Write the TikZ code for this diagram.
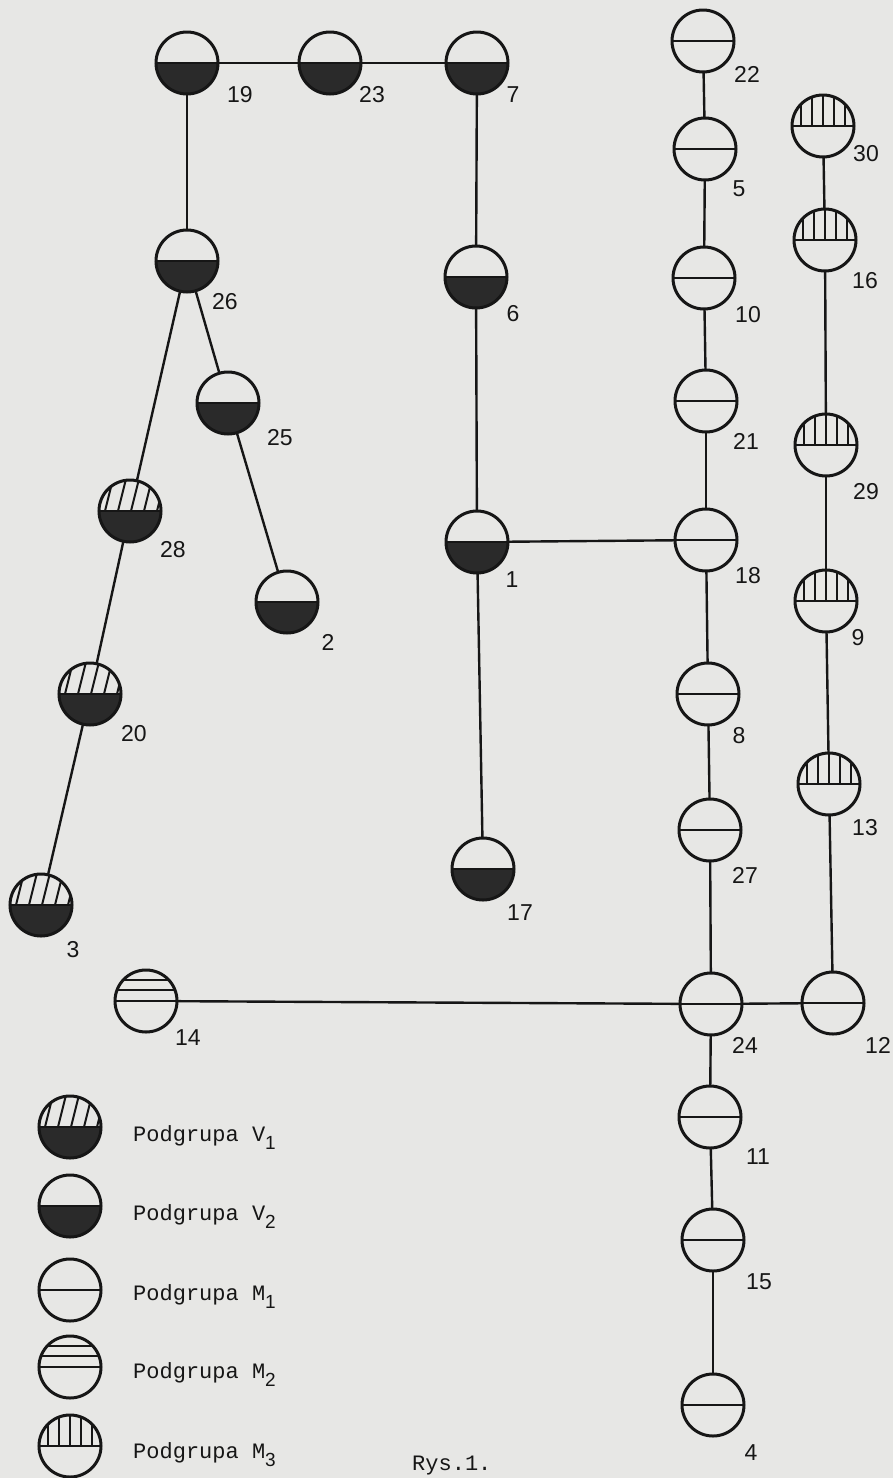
\documentclass[tikz,border=0pt]{standalone}
\usepackage{fontspec}
\setmainfont{Liberation Sans}
\newfontfamily\twfont{Liberation Mono}
\definecolor{bg}{RGB}{231,231,229}
\definecolor{ink}{RGB}{22,22,22}
\definecolor{dark}{RGB}{42,42,42}
\tikzset{
  disc/.style={circle, draw=ink, line width=3pt, minimum size=62pt, inner sep=0pt, outer sep=0pt},
  inr/.style={shift={(path picture bounding box.center)}, x=1pt, y=1pt},
  vone/.style={disc, path picture={\begin{scope}[inr]
      \fill[dark] (-40,0) rectangle (40,-40);
      \foreach \o in {-38,-25,-12,1,14,27} \draw[ink, line width=2pt] (\o,0) -- (\o+9,36);
      \draw[ink, line width=2.4pt] (-40,0) -- (40,0);
    \end{scope}}},
  vtwo/.style={disc, path picture={\begin{scope}[inr]
      \fill[dark] (-40,0) rectangle (40,-40);
      \draw[ink, line width=2.4pt] (-40,0) -- (40,0);
    \end{scope}}},
  mone/.style={disc, path picture={\begin{scope}[inr]
      \draw[ink, line width=2.4pt] (-40,0) -- (40,0);
    \end{scope}}},
  mtwo/.style={disc, path picture={\begin{scope}[inr]
      \draw[ink, line width=2.4pt] (-40,0) -- (40,0);
      \draw[ink, line width=2.2pt] (-40,11) -- (40,11);
      \draw[ink, line width=2.2pt] (-40,21) -- (40,21);
    \end{scope}}},
  mthree/.style={disc, path picture={\begin{scope}[inr]
      \draw[ink, line width=2.4pt] (-40,0) -- (40,0);
      \foreach \o in {-22,-11,0,11,22} \draw[ink, line width=2pt] (\o,0) -- (\o,36);
    \end{scope}}},
  lab/.style={inner sep=0pt, font=\fontsize{23}{23}\selectfont, text=ink},
  leg/.style={anchor=base west, inner sep=0pt, font=\twfont\fontsize{22}{22}\selectfont, text=ink},
  edge/.style={draw=ink, line width=2.4pt},
}
\newcommand{\subdig}[1]{\raisebox{-8pt}{\rmfamily\fontsize{19}{19}\selectfont #1}}
\begin{document}
\begin{tikzpicture}[x=1pt, y=-1pt]
\fill[bg] (0,0) rectangle (893,1478);
\useasboundingbox (0,0) rectangle (893,1478);

% V2 nodes
\node[vtwo] (n19) at (187,63) {};
\node[vtwo] (n23) at (330,63) {};
\node[vtwo] (n7) at (477,63) {};
\node[vtwo] (n26) at (187,261) {};
\node[vtwo] (n6) at (476,277) {};
\node[vtwo] (n25) at (228,403) {};
\node[vtwo] (n1) at (477,542) {};
\node[vtwo] (n2) at (287,602) {};
\node[vtwo] (n17) at (483,869) {};
% V1 nodes
\node[vone] (n28) at (130,511) {};
\node[vone] (n20) at (90,694) {};
\node[vone] (n3) at (41,905) {};
% M1 nodes
\node[mone] (n22) at (703,41) {};
\node[mone] (n5) at (705,149) {};
\node[mone] (n10) at (704,278) {};
\node[mone] (n21) at (706,401) {};
\node[mone] (n18) at (706,540) {};
\node[mone] (n8) at (708,694) {};
\node[mone] (n27) at (710,830) {};
\node[mone] (n24) at (711,1004) {};
\node[mone] (n12) at (833,1003) {};
\node[mone] (n11) at (710,1117) {};
\node[mone] (n15) at (713,1240) {};
\node[mone] (n4) at (713,1405) {};
% M2 node
\node[mtwo] (n14) at (146,1001) {};
% M3 nodes
\node[mthree] (n30) at (823,126) {};
\node[mthree] (n16) at (825,240) {};
\node[mthree] (n29) at (826,445) {};
\node[mthree] (n9) at (826,601) {};
\node[mthree] (n13) at (829,784) {};

% connectors
\draw[edge] (n19) -- (n23);
\draw[edge] (n23) -- (n7);
\draw[edge] (n19) -- (n26);
\draw[edge] (n26) -- (n28);
\draw[edge] (n28) -- (n20);
\draw[edge] (n20) -- (n3);
\draw[edge] (n26) -- (n25);
\draw[edge] (n25) -- (n2);
\draw[edge] (n7) -- (n6);
\draw[edge] (n6) -- (n1);
\draw[edge] (n1) -- (n17);
\draw[edge] (n1) -- (n18);
\draw[edge] (n22) -- (n5);
\draw[edge] (n5) -- (n10);
\draw[edge] (n10) -- (n21);
\draw[edge] (n21) -- (n18);
\draw[edge] (n18) -- (n8);
\draw[edge] (n8) -- (n27);
\draw[edge] (n27) -- (n24);
\draw[edge] (n24) -- (n11);
\draw[edge] (n11) -- (n15);
\draw[edge] (n15) -- (n4);
\draw[edge] (n30) -- (n16);
\draw[edge] (n16) -- (n29);
\draw[edge] (n29) -- (n9);
\draw[edge] (n9) -- (n13);
\draw[edge] (n13) -- (n12);
\draw[edge] (n14) -- (n24);
\draw[edge] (n24) -- (n12);

% labels
\node[lab] (t19) at (240,95) {19};
\node[lab] (t23) at (372,95) {23};
\node[lab] (t7) at (513,95) {7};
\node[lab] (t22) at (747,74) {22};
\node[lab] (t5) at (739,189) {5};
\node[lab] (t10) at (748,315) {10};
\node[lab] (t30) at (866,154) {30};
\node[lab] (t16) at (865,281) {16};
\node[lab] (t26) at (225,302) {26};
\node[lab] (t6) at (513,314) {6};
\node[lab] (t25) at (280,438) {25};
\node[lab] (t1) at (512,580) {1};
\node[lab] (t2) at (328,642) {2};
\node[lab] (t21) at (746,441) {21};
\node[lab] (t18) at (748,576) {18};
\node[lab] (t29) at (866,492) {29};
\node[lab] (t9) at (858,638) {9};
\node[lab] (t8) at (739,736) {8};
\node[lab] (t28) at (173,550) {28};
\node[lab] (t20) at (134,734) {20};
\node[lab] (t3) at (73,950) {3};
\node[lab] (t14) at (188,1038) {14};
\node[lab] (t13) at (865,828) {13};
\node[lab] (t17) at (520,913) {17};
\node[lab] (t27) at (745,875) {27};
\node[lab] (t24) at (745,1045) {24};
\node[lab] (t12) at (878,1045) {12};
\node[lab] (t11) at (758,1157) {11};
\node[lab] (t15) at (759,1282) {15};
\node[lab] (t4) at (751,1453) {4};

% legend
\node[vone] (lgV1) at (70,1127) {};
\node[vtwo] (lgV2) at (70,1206) {};
\node[mone] (lgM1) at (70,1290) {};
\node[mtwo] (lgM2) at (70,1367) {};
\node[mthree] (lgM3) at (70,1446) {};
\node[leg] (txV1) at (133,1141) {Podgrupa V\subdig{1}};
\node[leg] (txV2) at (133,1220) {Podgrupa V\subdig{2}};
\node[leg] (txM1) at (133,1300) {Podgrupa M\subdig{1}};
\node[leg] (txM2) at (133,1378) {Podgrupa M\subdig{2}};
\node[leg] (txM3) at (133,1458) {Podgrupa M\subdig{3}};
\node[leg] (cap) at (412,1470) {Rys.1.};
\end{tikzpicture}
\end{document}
